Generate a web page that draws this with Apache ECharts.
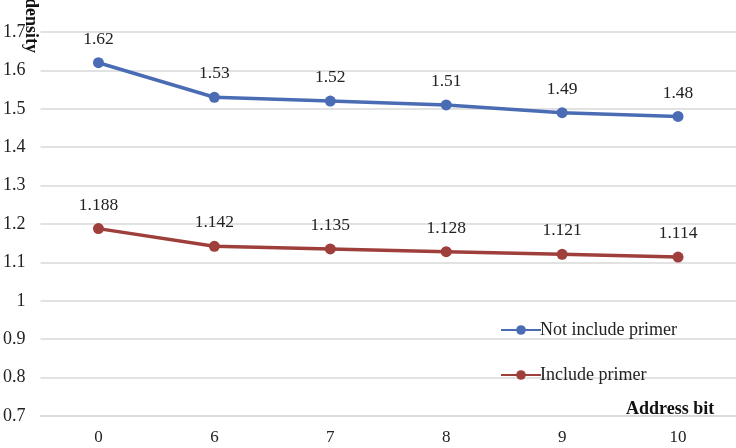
<!DOCTYPE html>
<html><head><meta charset="utf-8">
<script src="https://cdn.jsdelivr.net/npm/echarts@6/dist/echarts.min.js"></script>
<style>html,body{margin:0;padding:0;background:#fff}#c{width:736px;height:448px}</style>
</head><body><div id="c"></div>
<script>
const categories = ['0','6','7','8','9','10'];
const notIncludePrimer = [1.62, 1.53, 1.52, 1.51, 1.49, 1.48];
const includePrimer = [1.188, 1.142, 1.135, 1.128, 1.121, 1.114];
const yTicks = {min: 0.7, max: 1.7, interval: 0.1};
const FONT = '"Liberation Serif", "Times New Roman", serif';
const chart = echarts.init(document.getElementById('c'));
chart.setOption({
  animation: false,
  grid: {left: 40, right: 0, top: 32, bottom: 32},
  xAxis: {type: 'category', data: categories, boundaryGap: true,
    axisLine: {show: true, lineStyle: {color: '#d9d9d9', width: 1.5}}, axisTick: {show: false},
    axisLabel: {color: '#222', fontFamily: FONT, fontSize: 17, margin: 13}},
  yAxis: {type: 'value', min: yTicks.min, max: yTicks.max, interval: yTicks.interval,
    axisLine: {show: false}, axisTick: {show: false},
    splitLine: {lineStyle: {color: '#d9d9d9', width: 1.5}},
    axisLabel: {color: '#222', fontFamily: FONT, fontSize: 18, margin: 15,
      formatter: v => String(Math.round(v * 10) / 10)}},
  legend: {orient: 'vertical', left: 500, top: 321, padding: 0, itemGap: 27, itemWidth: 40, itemHeight: 12,
    textStyle: {fontFamily: FONT, fontSize: 18, color: '#222', padding: [0,0,0,-6]},
    data: ['Not include primer', 'Include primer']},
  graphic: [
    {type: 'text', left: 626, top: 400, style: {text: 'Address bit', font: 'bold 18px ' + FONT, fill: '#111'}},
    {type: 'text', x: 22, y: -2, rotation: -Math.PI / 2, style: {text: 'density', font: 'bold 18px ' + FONT, fill: '#111', textVerticalAlign: 'bottom'}}
  ],
  series: [
    {name: 'Not include primer', type: 'line', data: notIncludePrimer, symbol: 'circle', symbolSize: 11,
      lineStyle: {width: 3.5, color: '#4a6cb5'}, itemStyle: {color: '#4a6cb5'},
      label: {show: true, position: 'top', distance: 9, fontFamily: FONT, fontSize: 17.5, color: '#222'}},
    {name: 'Include primer', type: 'line', data: includePrimer, symbol: 'circle', symbolSize: 11,
      lineStyle: {width: 3.5, color: '#9e3f3c'}, itemStyle: {color: '#9e3f3c'},
      label: {show: true, position: 'top', distance: 9, fontFamily: FONT, fontSize: 17.5, color: '#222'}}
  ]
});
</script></body></html>
